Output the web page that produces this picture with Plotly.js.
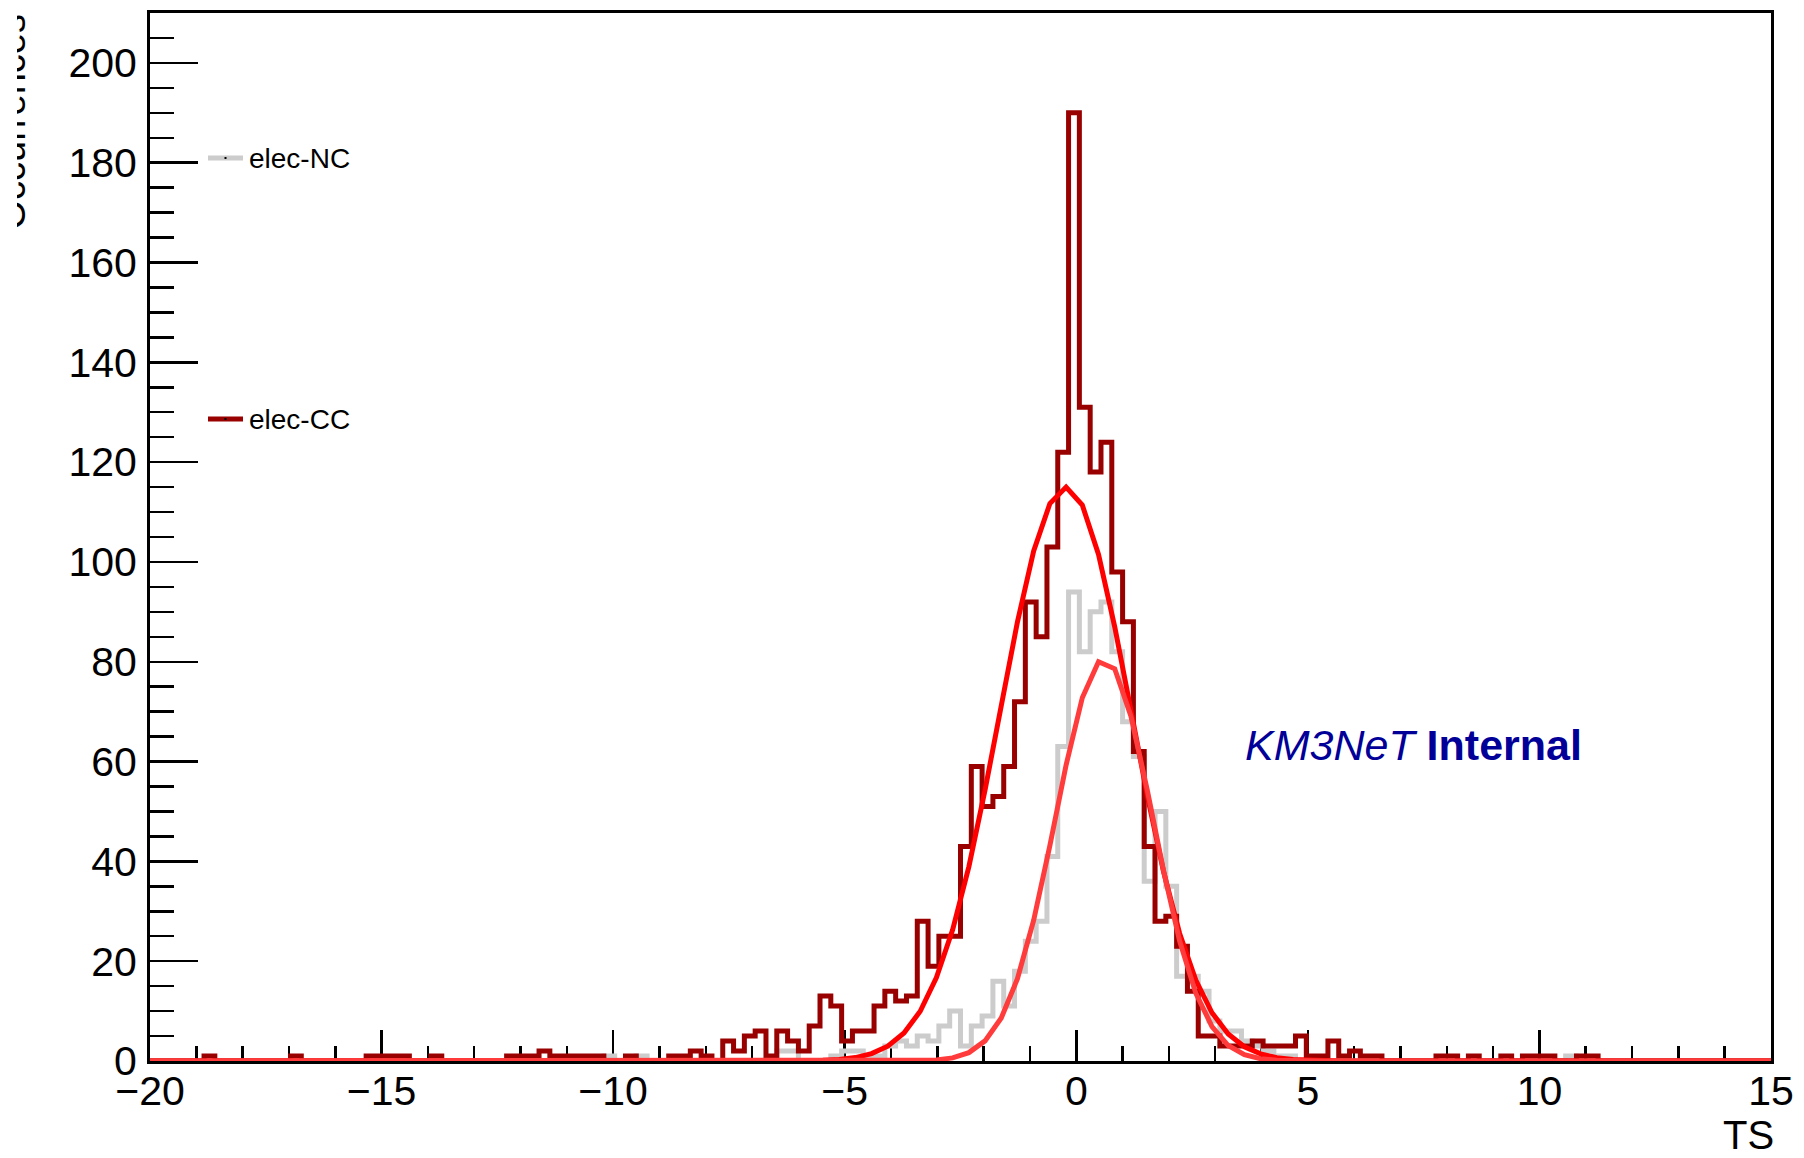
<!DOCTYPE html>
<html><head><meta charset="utf-8">
<script src="https://cdn.plot.ly/plotly-3.0.1.min.js"></script>
<style>html,body{margin:0;padding:0;background:#fff}#chart{width:1804px;height:1158px}</style>
</head><body><div id="chart"></div>
<script>
// Histogram binning: 150 bins from -20 to 15
const binStart = -20;
const binEnd = 15;
const nBins = 150;

// elec-CC counts per bin
const ccCounts = [
  0,0,0,0,0,1,0,0,0,0,
  0,0,0,1,0,0,0,0,0,0,
  1,1,1,1,0,0,1,0,0,0,
  0,0,0,1,1,1,2,1,1,1,
  1,1,0,0,1,0,0,0,1,1,
  2,1,0,4,2,5,6,1,6,4,
  2,7,13,11,4,6,6,11,14,12,
  13,28,19,25,25,43,59,51,53,59,
  72,92,85,103,122,190,131,118,124,98,
  88,62,43,28,29,23,14,5,5,3,
  3,3,4,3,3,3,5,1,1,4,
  1,2,1,1,0,0,0,0,0,1,
  1,0,1,0,0,1,0,1,1,1,
  0,0,1,1,0,0,0,0,0,0,
  0,0,0,0,0,0,0,0,0,0
];

// elec-NC counts per bin
const ncCounts = [
  0,0,0,0,0,0,0,0,0,0,
  0,0,0,0,0,0,0,0,0,0,
  0,0,0,0,0,0,0,0,0,0,
  0,0,0,0,0,0,0,0,0,0,
  0,0,1,0,0,1,0,0,0,0,
  0,0,0,0,0,0,0,0,2,2,
  0,0,0,1,2,2,1,1,3,4,
  3,5,4,7,10,3,7,9,16,11,
  18,24,28,41,63,94,82,90,92,82,
  68,61,36,50,35,17,17,14,8,6,
  6,4,3,2,1,1,0,0,0,0,
  0,0,0,0,0,0,0,0,0,0,
  0,0,0,0,0,0,0,0,0,0,
  0,1,0,0,0,0,0,0,0,0,
  0,0,0,0,0,0,0,0,0,0
];

// Fit curves
const fitX = [-20,-6.52,-6.17,-5.82,-5.47,-5.12,-4.77,-4.42,-4.07,-3.72,-3.37,-3.02,-2.67,-2.32,-1.97,-1.62,-1.27,-0.92,-0.57,-0.22,0.13,0.48,0.83,1.18,1.53,1.88,2.23,2.58,2.93,3.28,3.63,3.98,4.33,4.68,5.03,5.38,5.73,15];
const ccFit = [0,0.01,0.02,0.05,0.13,0.31,0.69,1.48,2.97,5.61,9.97,16.7,26.3,38.9,54.3,71.2,88.0,102.2,111.7,115.0,111.4,101.5,87.0,70.3,53.3,38.1,25.6,16.2,9.67,5.42,2.86,1.42,0.66,0.29,0.12,0.05,0.02,0];
const ncFit = [0,0,0,0,0,0,0,0,0.004,0.02,0.06,0.21,0.63,1.68,4.03,8.61,16.5,28.2,43.2,59.3,72.8,80.0,78.6,69.1,54.4,38.3,24.1,13.6,6.9,3.1,1.25,0.45,0.15,0.04,0.01,0,0,0];

const seriesNames = ["elec-NC", "elec-CC"];
const xTicks = [-20,-15,-10,-5,0,5,10,15];

function stepXY(counts){
  const w = (binEnd - binStart) / counts.length;
  const xs = [binStart], ys = [0];
  for (let i = 0; i < counts.length; i++){ xs.push(binStart + i*w); ys.push(counts[i]); }
  xs.push(binEnd); ys.push(counts[counts.length-1]);
  xs.push(binEnd); ys.push(0);
  return {xs, ys};
}

const nc = stepXY(ncCounts), cc = stepXY(ccCounts);
const FONT = "Liberation Sans, Arial, Helvetica, sans-serif";

const traces = [
  {x: nc.xs, y: nc.ys, mode:'lines', line:{shape:'hv', color:'#cccccc', width:5}, name: seriesNames[0], showlegend:false},
  {x: cc.xs, y: cc.ys, mode:'lines', line:{shape:'hv', color:'#990000', width:5}, name: seriesNames[1], showlegend:false},
  {x: fitX, y: ccFit, mode:'lines', line:{color:'#ff0000', width:5}, showlegend:false},
  {x: fitX, y: ncFit, mode:'lines', line:{color:'#ff3b3b', width:5}, showlegend:false}
];

const L = 150, R = 33, T = 13, B = 97, W = 1804, H = 1158;
const pw = W - L - R, ph = H - T - B;
const px = v => (v - L) / pw;
const py = v => (H - B - v) / ph;

const layout = {
  width: W, height: H,
  margin: {l: L, r: R, t: T, b: B, pad: 0},
  paper_bgcolor: '#fff', plot_bgcolor: '#fff',
  showlegend: false,
  font: {family: FONT, color: '#000'},
  xaxis: {
    range: [binStart, binEnd], tickvals: xTicks, ticktext: xTicks.map(v => v < 0 ? '\u2212' + Math.abs(v) : String(v)),
    ticks: 'inside', ticklen: 31, tickwidth: 2.5, tickcolor: '#000',
    minor: {dtick: 1, tick0: 0, ticks: 'inside', ticklen: 15, tickwidth: 2.5, tickcolor: '#000', showgrid: false},
    showline: true, linewidth: 3, linecolor: '#000', mirror: true,
    showgrid: false, zeroline: false, layer: 'below traces',
    tickfont: {size: 41, family: FONT, color: '#000'}, ticklabelstandoff: -8
  },
  yaxis: {
    range: [0, 210], tick0: 0, dtick: 20,
    ticks: 'inside', ticklen: 48, tickwidth: 2.5, tickcolor: '#000',
    minor: {dtick: 5, ticks: 'inside', ticklen: 24, tickwidth: 2.5, tickcolor: '#000', showgrid: false},
    showline: true, linewidth: 3, linecolor: '#000', mirror: true,
    showgrid: false, zeroline: false, layer: 'below traces',
    tickfont: {size: 41, family: FONT, color: '#000'}, ticklabelstandoff: 2
  },
  shapes: [
    {type:'line', xref:'paper', yref:'paper', x0: px(208), x1: px(243), y0: py(158), y1: py(158), line:{color:'#cccccc', width:5}},
    {type:'rect', xref:'paper', yref:'paper', x0: px(224.5), x1: px(226.5), y0: py(159), y1: py(157), line:{width:0}, fillcolor:'#000'},
    {type:'line', xref:'paper', yref:'paper', x0: px(208), x1: px(243), y0: py(419), y1: py(419), line:{color:'#990000', width:5}},
    {type:'rect', xref:'paper', yref:'paper', x0: px(224.5), x1: px(226.5), y0: py(420), y1: py(418), line:{width:0}, fillcolor:'#000'}
  ],
  annotations: [
    {xref:'paper', yref:'paper', x: px(247), y: py(158), xanchor:'left', yanchor:'middle', showarrow:false, text: seriesNames[0], font:{size:28, family:FONT, color:'#000'}},
    {xref:'paper', yref:'paper', x: px(247), y: py(419), xanchor:'left', yanchor:'middle', showarrow:false, text: seriesNames[1], font:{size:28, family:FONT, color:'#000'}},
    {xref:'paper', yref:'paper', x: px(1243), y: py(745), xanchor:'left', yanchor:'middle', showarrow:false, text:'<i>KM3NeT</i> <b>Internal</b>', font:{size:43, family:FONT, color:'#000099'}},
    {xref:'paper', yref:'paper', x: 1, y: 0, xanchor:'right', yanchor:'top', yshift: -50, xshift: 5, showarrow:false, text:'TS', font:{size:40, family:FONT, color:'#000'}},
    {xref:'paper', yref:'paper', x: 0, y: 1, xanchor:'right', yanchor:'top', xshift: -116, showarrow:false, textangle:-90, text:'Occurrences', font:{size:38, family:FONT, color:'#000'}},
    {xref:'paper', yref:'paper', x: 0, y: 1, xanchor:'left', yanchor:'top', xshift: -150, yshift: 13, showarrow:false, text:' ', width: 17, height: 260, bgcolor:'#ffffff', borderpad: 0, borderwidth: 0}
  ]
};

Plotly.newPlot('chart', traces, layout, {staticPlot: true, displayModeBar: false});
</script>
</body></html>
